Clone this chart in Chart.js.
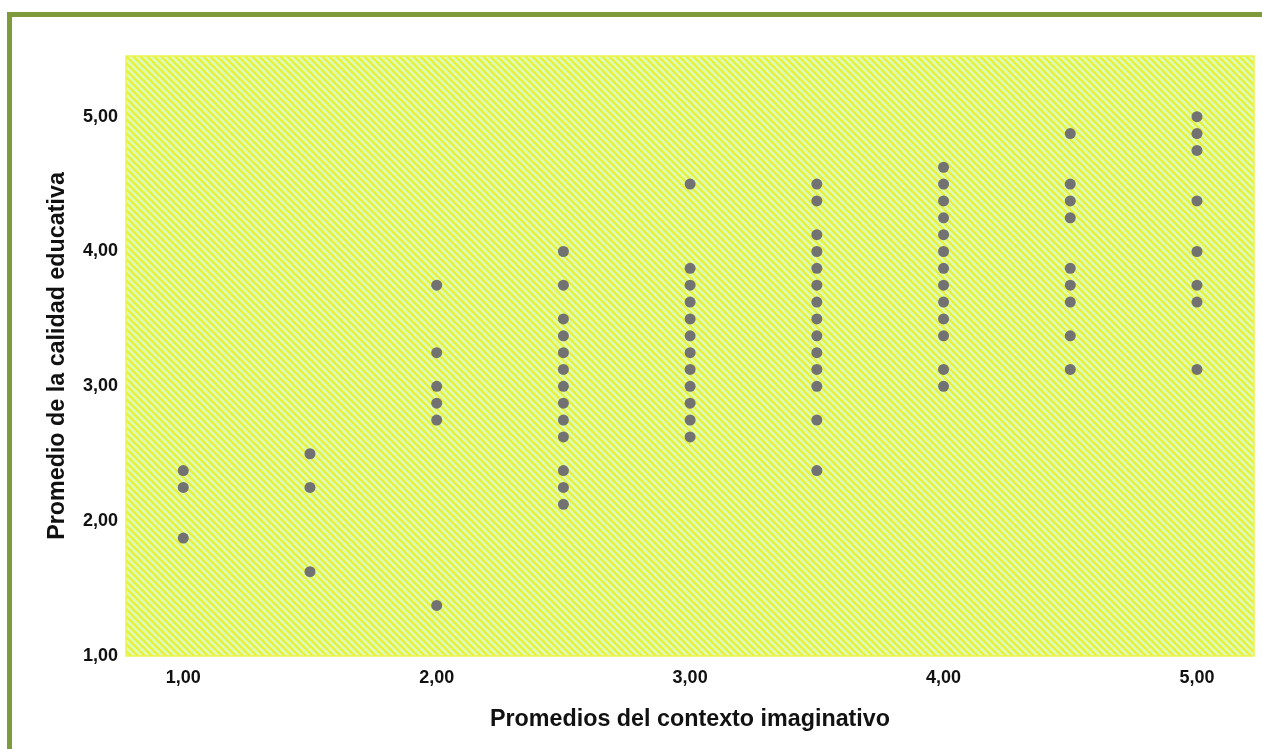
<!DOCTYPE html>
<html>
<head>
<meta charset="utf-8">
<script src="https://cdn.jsdelivr.net/npm/chart.js@4.4.1/dist/chart.umd.min.js"></script>
<style>
    body { margin: 0; background: #fff; overflow: hidden; }
    #frame {
        position: absolute; left: 7px; top: 12px; width: 1300px; height: 800px;
        border-left: 5px solid #7d9a3c; border-top: 5px solid #7d9a3c;
    }
    #scatter { position: absolute; left: 0; top: 0; }
</style>
</head>
<body>
<div id="frame"></div>
<canvas id="scatter" width="1262" height="749"></canvas>
<script>
// Promedios del contexto imaginativo (x) and the calidad educativa values seen at each
const xValues = [1, 1.5, 2, 2.5, 3, 3.5, 4, 4.5, 5];
const yAt1 = [2.375, 2.25, 1.875];
const yAt15 = [2.5, 2.25, 1.625];
const yAt2 = [3.75, 3.25, 3.0, 2.875, 2.75, 1.375];
const yAt25 = [4.0, 3.75, 3.5, 3.375, 3.25, 3.125, 3.0, 2.875, 2.75, 2.625, 2.375, 2.25, 2.125];
const yAt3 = [4.5, 3.875, 3.75, 3.625, 3.5, 3.375, 3.25, 3.125, 3.0, 2.875, 2.75, 2.625];
const yAt35 = [4.5, 4.375, 4.125, 4.0, 3.875, 3.75, 3.625, 3.5, 3.375, 3.25, 3.125, 3.0, 2.75, 2.375];
const yAt4 = [4.625, 4.5, 4.375, 4.25, 4.125, 4.0, 3.875, 3.75, 3.625, 3.5, 3.375, 3.125, 3.0];
const yAt45 = [4.875, 4.5, 4.375, 4.25, 3.875, 3.75, 3.625, 3.375, 3.125];
const yAt5 = [5.0, 4.875, 4.75, 4.375, 4.0, 3.75, 3.625, 3.125];
const yColumns = [yAt1, yAt15, yAt2, yAt25, yAt3, yAt35, yAt4, yAt45, yAt5];

const xTicks = [1, 2, 3, 4, 5];
const yTicks = [1, 2, 3, 4, 5];

const fontFamily = '"Liberation Sans", Arial, sans-serif';

function buildPoints() {
    const pts = [];
    xValues.forEach((x, i) => {
        yColumns[i].forEach(y => pts.push({ x: x, y: y }));
    });
    return pts;
}

function makeHatch() {
    const p = 7;
    const c = document.createElement('canvas');
    c.width = p; c.height = p;
    const g = c.getContext('2d');
    g.fillStyle = '#ddfcb8';
    g.fillRect(0, 0, p, p);
    g.strokeStyle = '#e8f03a';
    g.lineWidth = 2.3;
    [-p, 0, p].forEach(off => {
        g.beginPath();
        g.moveTo(off - 1, -1);
        g.lineTo(off + p + 1, p + 1);
        g.stroke();
    });
    return c;
}

// hatched plot background with a thin yellow edge
const plotBackground = {
    id: 'plotBackground',
    beforeDraw(chart) {
        const { ctx, chartArea: a } = chart;
        ctx.save();
        ctx.fillStyle = ctx.createPattern(makeHatch(), 'repeat');
        ctx.fillRect(a.left, a.top, a.right - a.left, a.bottom - a.top);
        ctx.strokeStyle = '#eef24c';
        ctx.lineWidth = 1.5;
        ctx.strokeRect(a.left, a.top, a.right - a.left, a.bottom - a.top);
        ctx.restore();
    }
};

function fmt(v) {
    return Number(v).toFixed(2).replace('.', ',');
}

function initScatter() {
    const ctx = document.getElementById('scatter').getContext('2d');
    new Chart(ctx, {
        type: 'scatter',
        data: {
            datasets: [{
                data: buildPoints(),
                backgroundColor: '#727272',
                borderWidth: 0,
                pointRadius: 5.5,
                pointHoverRadius: 5.5
            }]
        },
        options: {
            responsive: false,
            animation: false,
            devicePixelRatio: 1,
            layout: { padding: { left: 0, top: 56, right: 8, bottom: 0 } },
            plugins: {
                legend: { display: false },
                tooltip: { enabled: false }
            },
            scales: {
                x: {
                    type: 'linear',
                    min: 0.774,
                    max: 5.225,
                    grid: { display: false, drawTicks: false },
                    border: { display: false },
                    afterBuildTicks: s => { s.ticks = xTicks.map(v => ({ value: v })); },
                    afterFit: s => { s.height = 93; },
                    ticks: {
                        padding: 11,
                        color: '#111',
                        font: { family: fontFamily, size: 18, weight: 'bold' },
                        callback: v => fmt(v)
                    },
                    title: {
                        display: true,
                        text: 'Promedios del contexto imaginativo',
                        color: '#111',
                        padding: { top: 0, bottom: 15 },
                        font: { family: fontFamily, size: 23.3, weight: 'bold' }
                    }
                },
                y: {
                    type: 'linear',
                    min: 1,
                    max: 5.45,
                    grid: { display: false, drawTicks: false },
                    border: { display: false },
                    afterBuildTicks: s => { s.ticks = yTicks.map(v => ({ value: v })); },
                    afterFit: s => { s.width = 126; },
                    ticks: {
                        padding: 8,
                        color: '#111',
                        font: { family: fontFamily, size: 18, weight: 'bold' },
                        callback: v => fmt(v)
                    },
                    title: {
                        display: true,
                        text: 'Promedio de la calidad educativa',
                        color: '#111',
                        padding: { top: 44, bottom: 0 },
                        font: { family: fontFamily, size: 23.3, weight: 'bold' }
                    }
                }
            }
        },
        plugins: [plotBackground]
    });
}

initScatter();
</script>
</body>
</html>
